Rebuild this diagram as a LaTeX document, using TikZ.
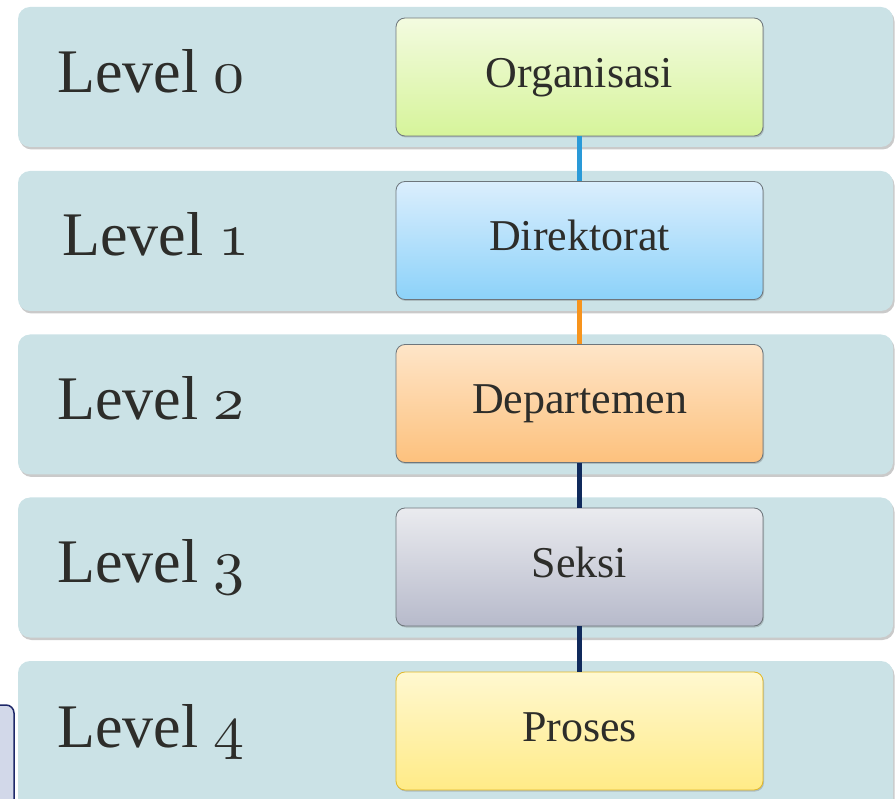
\documentclass[tikz,border=0pt]{standalone}
\usepackage{fontspec}
\setmainfont{Liberation Serif}
\usetikzlibrary{shadows}
\font\osfnum=cmmi10 at 62pt
\definecolor{bandfill}{RGB}{203,226,230}
\definecolor{txt}{RGB}{45,45,42}
\definecolor{boxline}{RGB}{110,118,124}
\definecolor{cblue}{RGB}{42,154,216}
\definecolor{corange}{RGB}{247,148,29}
\definecolor{cnavy}{RGB}{16,42,92}
\definecolor{gtop}{RGB}{243,251,224}\definecolor{gbot}{RGB}{214,244,154}
\definecolor{btop}{RGB}{219,238,253}\definecolor{bbot}{RGB}{140,210,249}
\definecolor{otop}{RGB}{254,229,200}\definecolor{obot}{RGB}{253,193,125}
\definecolor{stop}{RGB}{234,235,239}\definecolor{sbot}{RGB}{183,186,203}
\definecolor{ytop}{RGB}{255,248,208}\definecolor{ybot}{RGB}{255,235,135}
\definecolor{yline}{RGB}{226,184,40}
\definecolor{sidefill}{RGB}{210,216,233}
\definecolor{sideline}{RGB}{30,40,105}
\begin{document}
\begin{tikzpicture}[x=1pt,y=-1pt,
  band/.style={draw=none,fill=bandfill,rounded corners=12pt,minimum width=875pt,minimum height=140pt,
    drop shadow={shadow xshift=1.5pt,shadow yshift=-2.5pt,opacity=0.35,fill=black!60}},
  lvl/.style={inner sep=0pt,anchor=base west,text=txt,font=\fontsize{62}{64}\selectfont},
  ibox/.style={draw=boxline,line width=0.8pt,rounded corners=9pt,minimum width=367pt,minimum height=118pt,
    drop shadow={shadow xshift=1pt,shadow yshift=-1.5pt,opacity=0.3,fill=black!60}},
  ilbl/.style={inner sep=0pt,anchor=base,text=txt,font=\fontsize{44}{46}\selectfont},
  conn/.style={line width=5.5pt}]
\useasboundingbox (0,0) rectangle (895,799);
\clip (0,0) rectangle (895,799);
% left partial box
\node[draw=sideline,line width=1.5pt,fill=sidefill,rounded corners=8pt,minimum width=50pt,minimum height=130pt] (side) at (-11,770) {};
% bands
\node[band] (l0) at (455.5,77) {};
\node[band] (l1) at (455.5,241) {};
\node[band] (l2) at (455.5,404.5) {};
\node[band] (l3) at (455.5,567.5) {};
\node[band,minimum height=160pt] (l4) at (455.5,741) {};
% level texts
\node[lvl] (t0) at (57,93) {Level {\osfnum 0}};
\node[lvl] (t1) at (62,256) {Level {\osfnum 1}};
\node[lvl] (t2) at (57,420) {Level {\osfnum 2}};
\node[lvl] (t3) at (57,583) {Level {\osfnum 3}};
\node[lvl] (t4) at (57,747) {Level {\osfnum 4}};
% boxes
\node[ibox,top color=gtop,bottom color=gbot] (b0) at (579.5,77) {};
\node[ibox,top color=btop,bottom color=bbot] (b1) at (579.5,240.5) {};
\node[ibox,top color=otop,bottom color=obot] (b2) at (579.5,403.5) {};
\node[ibox,top color=stop,bottom color=sbot] (b3) at (579.5,567) {};
\node[ibox,draw=yline,top color=ytop,bottom color=ybot] (b4) at (579.5,731) {};
% connectors
\draw[conn,cblue] (b0.south) -- (b1.north);
\draw[conn,corange] (b1.south) -- (b2.north);
\draw[conn,cnavy] (b2.south) -- (b3.north);
\draw[conn,cnavy] (b3.south) -- (b4.north);
\node[ilbl] (o0) at (579.5,88) {Organisasi};
\node[ilbl] (o1) at (579.5,251) {Direktorat};
\node[ilbl] (o2) at (579.5,414) {Departemen};
\node[ilbl] (o3) at (579.5,577) {Seksi};
\node[ilbl] (o4) at (579.5,741) {Proses};
\end{tikzpicture}
\end{document}
